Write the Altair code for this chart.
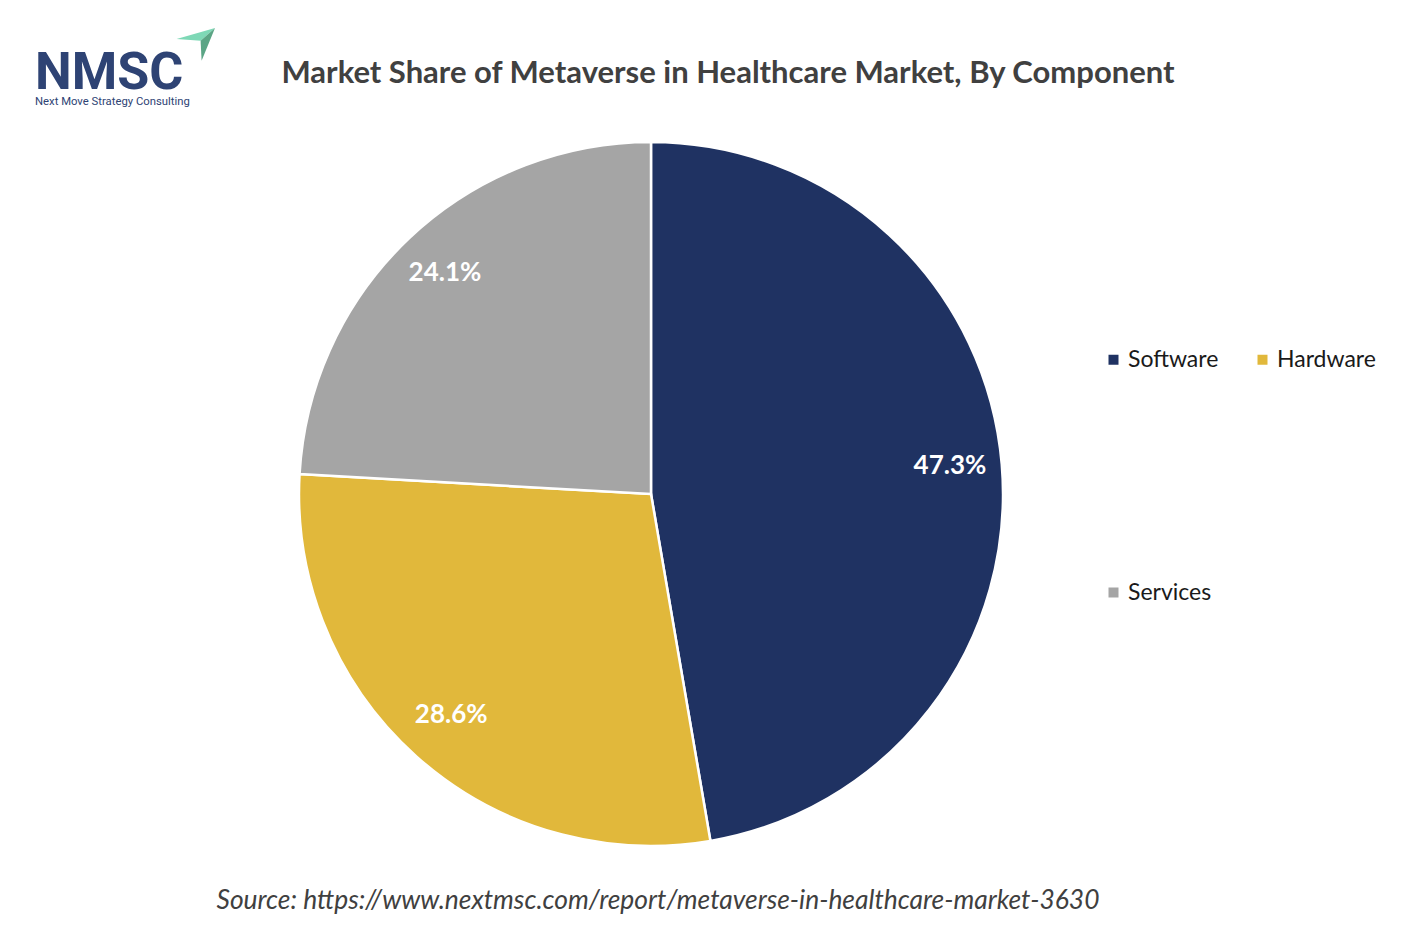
import altair as alt
import pandas as pd

components = ["Software", "Hardware", "Services"]
shares = [47.3, 28.6, 24.1]
colors = ["#1F3262", "#E1B83B", "#A5A5A5"]

title_text = "Market Share of Metaverse in Healthcare Market, By Component"
source_text = "Source: https://www.nextmsc.com/report/metaverse-in-healthcare-market-3630"
logo_text = "NMSC"
logo_sub = "Next Move Strategy Consulting"

df = pd.DataFrame({
    "component": components,
    "share": shares,
    "order": list(range(len(components))),
    "label": [f"{v}%" for v in shares],
})

CX, CY = 643, 486
R = 352

base = alt.Chart(df).encode(
    theta=alt.Theta("share:Q", stack=True),
    order=alt.Order("order:Q"),
)

pie = base.mark_arc(outerRadius=R, stroke="white", strokeWidth=2.5).encode(
    x=alt.value(CX), y=alt.value(CY),
    color=alt.Color(
        "component:N",
        scale=alt.Scale(domain=components, range=colors),
        sort=None,
        legend=alt.Legend(
            title=None, orient="none", legendX=1094, legendY=340,
            direction="horizontal",
            columns=2, columnPadding=32, rowPadding=209,
            symbolType="square", symbolSize=100, symbolStrokeWidth=0,
            labelFont="Lato", labelFontSize=23, labelColor="#1a1a1a",
            labelOffset=3,
        ),
    ),
)

labels = base.mark_text(radius=300, font="Lato", fontWeight="bold", fontSize=26, color="white").encode(
    x=alt.value(CX), y=alt.value(CY - 3),
    text="label:N",
)

one = pd.DataFrame({"t": [title_text]})
title = alt.Chart(one).mark_text(font="Lato", fontWeight="bold", fontSize=31, color="#404040",
                                 align="center", baseline="middle").encode(
    x=alt.value(720), y=alt.value(66), text="t:N")

src = alt.Chart(pd.DataFrame({"t": [source_text]})).mark_text(
    font="Lato", fontStyle="italic", fontSize=26.4, color="#404040", align="center", baseline="middle"
).encode(x=alt.value(650), y=alt.value(893), text="t:N")

logo = alt.Chart(pd.DataFrame({"t": [logo_text]})).mark_text(
    font="Roboto", fontWeight="bold", fontSize=52, color="#2E4374", align="left", baseline="alphabetic"
).encode(x=alt.value(27), y=alt.value(81), text="t:N")

logo2 = alt.Chart(pd.DataFrame({"t": [logo_sub]})).mark_text(
    font="Roboto", fontSize=11.3, color="#2E4374", align="left", baseline="alphabetic"
).encode(x=alt.value(27), y=alt.value(97), text="t:N")

light = "M -0.97 -0.28 L 0.95 -0.83 L 0.23 -0.19 Z"
dark = "M 0.95 -0.83 L 0.28 0.81 L 0.23 -0.19 Z"
tri1 = alt.Chart(pd.DataFrame({"k": [1]})).mark_point(
    shape=light, filled=True, size=1600, color="#7ED8B6", opacity=1, strokeWidth=0
).encode(x=alt.value(188), y=alt.value(36.5))
tri2 = alt.Chart(pd.DataFrame({"k": [1]})).mark_point(
    shape=dark, filled=True, size=1600, color="#5BA585", opacity=1, strokeWidth=0
).encode(x=alt.value(188), y=alt.value(36.5))

chart = alt.layer(pie, labels, title, src, logo, logo2, tri1, tri2).properties(
    width=1410, height=918, padding=0,
    autosize=alt.AutoSizeParams(type="none"),
    background="white",
).configure_view(stroke=None)

chart.save("out.html", embed_options={"renderer": "svg", "actions": False})
